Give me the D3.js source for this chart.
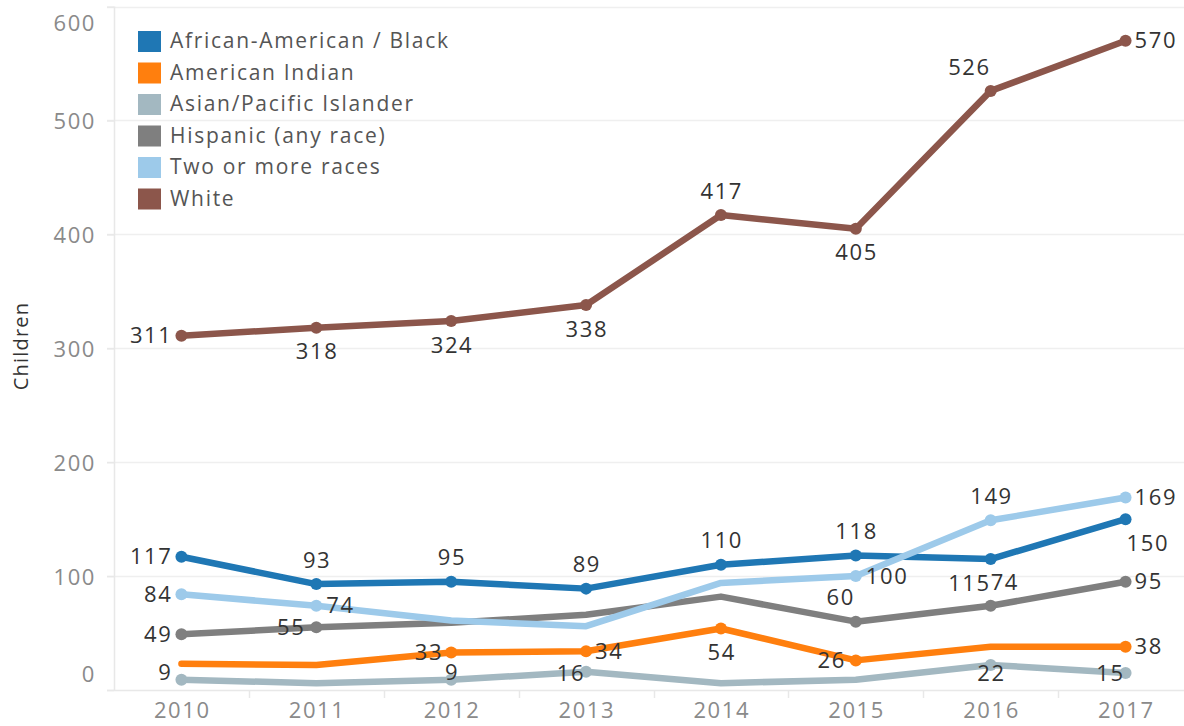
<!DOCTYPE html>
<html><head><meta charset="utf-8">
<script src="https://cdn.jsdelivr.net/npm/d3@7"></script>
<style>
html,body{margin:0;padding:0;background:#fff;}
svg{display:block;font-family:"Open Sans",sans-serif;}
</style></head>
<body>
<svg id="chart" width="1184" height="726"></svg>
<script>
// ---- data ----
const years = [2010, 2011, 2012, 2013, 2014, 2015, 2016, 2017];
const seriesNames = ["African-American / Black", "American Indian", "Asian/Pacific Islander", "Hispanic (any race)", "Two or more races", "White"];
const black     = [117, 93, 95, 89, 110, 118, 115, 150];
const amIndian  = [23, 22, 33, 34, 54, 26, 38, 38];
const asian     = [9, 6, 9, 16, 6, 9, 22, 15];
const hispanic  = [49, 55, 59, 66, 82, 60, 74, 95];
const twoOrMore = [84, 74, 61, 56, 94, 100, 149, 169];
const white     = [311, 318, 324, 338, 417, 405, 526, 570];
const yTicks = [0, 100, 200, 300, 400, 500, 600];
const yTitle = "Children";

// which points carry a value label (1 = shown)
const blackShown     = [1,1,1,1,1,1,1,1];
const amIndianShown  = [0,0,1,1,1,1,0,1];
const asianShown     = [1,0,1,1,0,0,1,1];
const hispanicShown  = [1,1,0,0,0,1,1,1];
const twoOrMoreShown = [1,1,0,0,0,1,1,1];
const whiteShown     = [1,1,1,1,1,1,1,1];

// ---- styles / placement (kept apart from data) ----
const colors = ["#1f77b4", "#ff7f0e", "#a3b8c1", "#7f7f7f", "#9dcaea", "#8c564b"];
const P = {
  L: {dx:-9, dy:0, a:"end"}, R: {dx:9, dy:0, a:"start"},
  A: {dx:0, dy:-24, a:"middle"}, B: {dx:0, dy:24, a:"middle"}
};
const placement = [
  [P.L, P.A, P.A, P.A, P.A, P.A, {dx:0,dy:24,a:"end"}, {dx:1,dy:24,a:"start"}],
  [null, null, {dx:-8,dy:0,a:"end"}, P.R, P.B, {dx:-10,dy:0,a:"end"}, null, P.R],
  [{dx:-9,dy:-7,a:"end"}, null, {dx:0,dy:-7,a:"middle"}, {dx:-1,dy:2,a:"end"}, null, null, {dx:0,dy:8,a:"middle"}, {dx:-1,dy:0,a:"end"}],
  [P.L, {dx:-11,dy:0,a:"end"}, null, null, null, {dx:-1,dy:-24,a:"end"}, {dx:0,dy:-23,a:"start"}, P.R],
  [P.L, {dx:10,dy:0,a:"start"}, null, null, null, {dx:10,dy:0,a:"start"}, P.A, P.R],
  [P.L, P.B, P.B, P.B, P.A, P.B, {dx:0,dy:-24,a:"end"}, P.R]
];

const values = [black, amIndian, asian, hispanic, twoOrMore, white];
const shown = [blackShown, amIndianShown, asianShown, hispanicShown, twoOrMoreShown, whiteShown];
const series = seriesNames.map((name, i) => ({
  name, color: colors[i],
  points: years.map((yr, j) => ({year: yr, value: values[i][j], show: shown[i][j], place: placement[i][j]}))
}));

// ---- layout ----
const svg = d3.select("#chart");
const pLeft = 114, pRight = 1193, pTop = 6.6, pBottom = 690;
const x = d3.scaleBand().domain(years).range([pLeft, pRight]);
const xc = d => x(d) + x.bandwidth() / 2;
const y = d3.scaleLinear().domain([0, 600]).range([pBottom, pTop]);
const LS = 1.6;

// gridlines
svg.append("g").selectAll("line").data(yTicks.filter(t => t > 0)).join("line")
  .attr("x1", 107).attr("x2", 1184)
  .attr("y1", d => Math.round(y(d)) + 0.5).attr("y2", d => Math.round(y(d)) + 0.5)
  .attr("stroke", "#efefef").attr("stroke-width", 1.5);

// y axis
const yAxis = svg.append("g").attr("transform", `translate(${pLeft},0)`)
  .call(d3.axisLeft(y).tickValues(yTicks).tickSize(7).tickPadding(11));
yAxis.select(".domain").attr("stroke", "#e8e8e8").attr("stroke-width", 1.5)
  .attr("d", `M0.5,${pTop}V${pBottom}`);
yAxis.selectAll(".tick line").attr("stroke", "#e8e8e8").attr("stroke-width", 1.5);
yAxis.selectAll(".tick text")
  .attr("fill", "#8a8a8a").attr("font-size", 22).attr("font-family", "Open Sans")
  .attr("letter-spacing", LS)
  .attr("y", d => Math.min(Math.max(y(d), 22), 673) - y(d) + 1);

// x axis
const xAxis = svg.append("g").attr("transform", `translate(0,${pBottom})`)
  .call(d3.axisBottom(x).tickSize(0).tickPadding(12));
xAxis.select(".domain").attr("stroke", "#e8e8e8").attr("stroke-width", 1.5)
  .attr("d", `M107,0.5H1184`);
xAxis.selectAll(".tick text").attr("fill", "#8a8a8a").attr("font-size", 22)
  .attr("font-family", "Open Sans").attr("letter-spacing", LS).attr("dx", LS / 2);
svg.append("g").selectAll("line").data(years.slice(1)).join("line")
  .attr("x1", d => Math.round(x(d)) + 0.5).attr("x2", d => Math.round(x(d)) + 0.5)
  .attr("y1", pBottom).attr("y2", pBottom + 8)
  .attr("stroke", "#e8e8e8").attr("stroke-width", 1.5);

// y title
svg.append("text").attr("transform", "translate(28,346) rotate(-90)")
  .attr("text-anchor", "middle").attr("font-size", 20).attr("fill", "#333")
  .attr("letter-spacing", 1.2).attr("font-weight", 500)
  .text(yTitle);

// lines
const line = d3.line().x(d => xc(d.year)).y(d => y(d.value));
const g = svg.append("g");
series.forEach(s => {
  g.append("path").datum(s.points).attr("d", line)
    .attr("fill", "none").attr("stroke", s.color).attr("stroke-width", 6.5)
    .attr("stroke-linejoin", "round").attr("stroke-linecap", "round");
});
series.forEach(s => {
  g.append("g").selectAll("circle").data(s.points.filter(p => p.show)).join("circle")
    .attr("cx", d => xc(d.year)).attr("cy", d => y(d.value)).attr("r", 6)
    .attr("fill", s.color);
});
series.forEach(s => {
  g.append("g").selectAll("text").data(s.points.filter(p => p.show && p.place)).join("text")
    .attr("x", d => xc(d.year) + d.place.dx + (d.place.a === "middle" ? LS / 2 : 0))
    .attr("y", d => y(d.value) + d.place.dy)
    .attr("dy", "0.35em").attr("text-anchor", d => d.place.a)
    .attr("font-size", 22).attr("fill", "#333").attr("letter-spacing", LS)
    .text(d => d.value);
});

// legend
const lg = svg.append("g").attr("transform", "translate(138,41)");
const items = lg.selectAll("g").data(series).join("g")
  .attr("transform", (d, i) => `translate(0,${i * 31.5})`);
items.append("rect").attr("x", 0).attr("y", -10).attr("width", 23).attr("height", 21)
  .attr("fill", d => d.color);
items.append("text").attr("x", 32).attr("y", 0).attr("dy", "0.35em")
  .attr("font-size", 21).attr("fill", "#555").attr("letter-spacing", 1.7).text(d => d.name);
</script>
</body></html>
